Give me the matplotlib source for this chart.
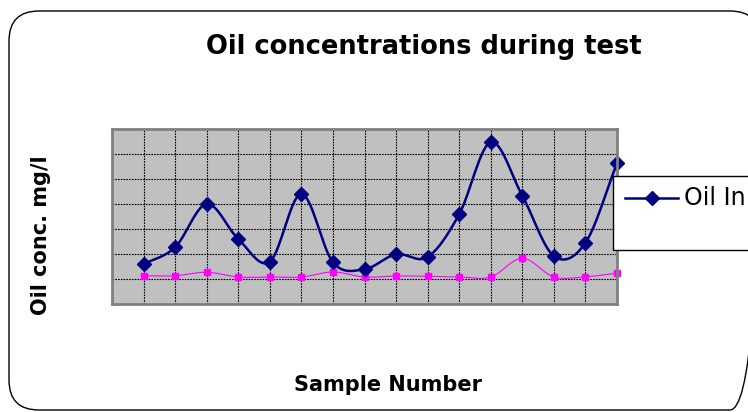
import matplotlib
matplotlib.use("Agg")
import matplotlib.pyplot as plt
import numpy as np
from matplotlib.patches import FancyBboxPatch, Rectangle
from matplotlib.lines import Line2D

samples = np.arange(1, 17)
oil_in = [15.9, 22.7, 40.0, 26.0, 16.9, 44.0, 16.7, 13.9, 19.9, 18.8, 35.9, 64.7, 43.3, 19.2, 24.5, 56.3]
oil_out = [11.3, 11.3, 12.7, 10.8, 10.8, 10.8, 12.8, 10.8, 11.2, 11.1, 10.8, 10.8, 18.3, 10.8, 10.9, 12.3]


# smooth line like the spreadsheet one (catmull-rom through the points)
def smooth(x, y, n=20):
    x = np.asarray(x, float)
    y = np.asarray(y, float)
    px = np.concatenate([[2 * x[0] - x[1]], x, [2 * x[-1] - x[-2]]])
    py = np.concatenate([[2 * y[0] - y[1]], y, [2 * y[-1] - y[-2]]])
    xs, ys = [], []
    t = np.linspace(0, 1, n)
    for i in range(1, len(px) - 2):
        for p, out in ((px, xs), (py, ys)):
            p0, p1, p2, p3 = p[i - 1], p[i], p[i + 1], p[i + 2]
            out.extend(0.5 * (2 * p1 + (-p0 + p2) * t + (2 * p0 - 5 * p1 + 4 * p2 - p3) * t ** 2
                              + (-p0 + 3 * p1 - 3 * p2 + p3) * t ** 3))
    return xs, ys


fig = plt.figure(figsize=(7.48, 4.12), dpi=100)

ax = fig.add_axes([112 / 748, 1 - 304 / 412, 505 / 748, 175 / 412])
ax.set_facecolor('#c0c0c0')
ax.set_xlim(0, 16)
ax.set_ylim(0, 70)
ax.set_xticks(np.arange(1, 16))
ax.set_yticks(np.arange(10, 70, 10))
ax.tick_params(length=0, labelbottom=False, labelleft=False)
ax.grid(True, color='black', linestyle=(0, (1.5, 1)), linewidth=0.8)
ax.set_axisbelow(True)
for s in ax.spines.values():
    s.set_color('#808080')
    s.set_linewidth(2)

sx, sy = smooth(samples, oil_out)
ax.plot(sx, sy, color='#ff00ff', linewidth=0.8, clip_on=False)
ax.plot(samples, oil_out, 's', color='#ff00ff', markersize=5, clip_on=False)
sx, sy = smooth(samples, oil_in)
ax.plot(sx, sy, color='#000080', linewidth=1.8, clip_on=False)
ax.plot(samples, oil_in, 'D', color='#000080', markersize=7, clip_on=False)

# overlay in pixel units for frame, texts and legend
ov = fig.add_axes([0, 0, 1, 1])
ov.patch.set_visible(False)
ov.set_xlim(0, 748)
ov.set_ylim(412, 0)
ov.axis('off')

ov.add_patch(FancyBboxPatch((9, 11), 751, 399, boxstyle='round,pad=0,rounding_size=30',
                            facecolor='none', edgecolor='black', linewidth=1, clip_on=False))

ov.text(424, 47, 'Oil concentrations during test', ha='center', va='center',
        fontsize=18.5, fontweight='bold')
ov.text(41, 235, 'Oil conc. mg/l', ha='center', va='center', rotation=90,
        fontsize=15, fontweight='bold')
ov.text(388, 385, 'Sample Number', ha='center', va='center',
        fontsize=15, fontweight='bold')

ov.add_patch(Rectangle((613, 176), 150, 74, facecolor='white', edgecolor='black', linewidth=1))
ov.add_line(Line2D([625, 678], [198, 198], color='#000080', linewidth=1.8))
ov.plot([652], [198], 'D', color='#000080', markersize=7)
ov.text(684, 198, 'Oil In', ha='left', va='center', fontsize=17)

fig.savefig('out.png', dpi=100)
